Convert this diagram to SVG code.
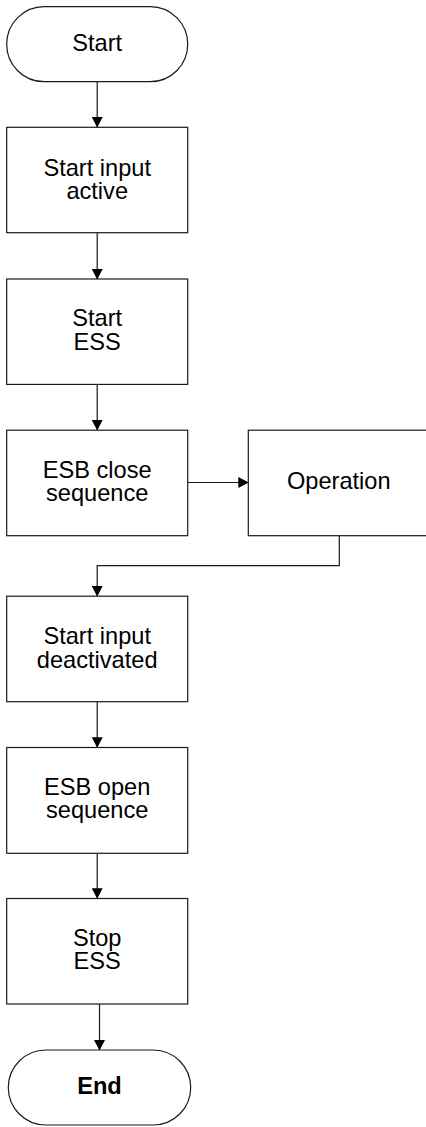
<svg xmlns="http://www.w3.org/2000/svg" width="426" height="1127" viewBox="0 0 426 1127">
<style>
.s{fill:#fff;stroke:#1a1a1a;stroke-width:1.2}
.t{font-family:"Liberation Sans",Arial,sans-serif;font-size:23.6px;fill:#000;text-anchor:middle}
.b{font-weight:bold}
.c{fill:none;stroke:#1a1a1a;stroke-width:1.2}
</style>
<defs>
<marker id="ah" markerWidth="11" markerHeight="11" refX="10" refY="5.5" orient="auto" markerUnits="userSpaceOnUse">
<path d="M0,0 L10.5,5.5 L0,11 Z" fill="#000"/>
</marker>
</defs>
<g id="connectors">
<path class="c" d="M97.2,82 V127" marker-end="url(#ah)"/>
<path class="c" d="M97.2,233 V279" marker-end="url(#ah)"/>
<path class="c" d="M97.2,384.5 V430" marker-end="url(#ah)"/>
<path class="c" d="M188,482.5 H248.3" marker-end="url(#ah)"/>
<path class="c" d="M339.3,536 V565.7 H97.2 V596" marker-end="url(#ah)"/>
<path class="c" d="M97.2,702 V747.3" marker-end="url(#ah)"/>
<path class="c" d="M97.2,853.3 V898.3" marker-end="url(#ah)"/>
<path class="c" d="M99.5,1004 V1050" marker-end="url(#ah)"/>
</g>
<g id="start">
<rect class="s" x="6.7" y="6.7" width="181" height="75" rx="37.5" ry="37.5"/>
<text class="t" x="97.2" y="50.7">Start</text>
</g>
<g id="start-input-active">
<rect class="s" x="6.7" y="127.3" width="181" height="105.4"/>
<text class="t" x="97.2" y="175.7">Start input</text>
<text class="t" x="97.2" y="199.2">active</text>
</g>
<g id="start-ess">
<rect class="s" x="6.7" y="279" width="181" height="105.4"/>
<text class="t" x="97.2" y="325.8">Start</text>
<text class="t" x="97.2" y="350">ESS</text>
</g>
<g id="esb-close">
<rect class="s" x="6.7" y="430.2" width="181" height="105.5"/>
<text class="t" x="97.2" y="477.5">ESB close</text>
<text class="t" x="97.2" y="500.5">sequence</text>
</g>
<g id="operation">
<rect class="s" x="248.3" y="430.2" width="181" height="105.5"/>
<text class="t" x="338.8" y="489">Operation</text>
</g>
<g id="start-input-deactivated">
<rect class="s" x="6.7" y="596.2" width="181" height="105.5"/>
<text class="t" x="97.2" y="644">Start input</text>
<text class="t" x="97.2" y="667.7">deactivated</text>
</g>
<g id="esb-open">
<rect class="s" x="6.7" y="747.5" width="181" height="105.8"/>
<text class="t" x="97.2" y="795">ESB open</text>
<text class="t" x="97.2" y="818.3">sequence</text>
</g>
<g id="stop-ess">
<rect class="s" x="6.7" y="898.5" width="181" height="105.5"/>
<text class="t" x="97.2" y="945.7">Stop</text>
<text class="t" x="97.2" y="969.3">ESS</text>
</g>
<g id="end">
<rect class="s" x="8.3" y="1050" width="182.4" height="75" rx="37.5" ry="37.5"/>
<text class="t b" x="99.5" y="1094">End</text>
</g>
</svg>
